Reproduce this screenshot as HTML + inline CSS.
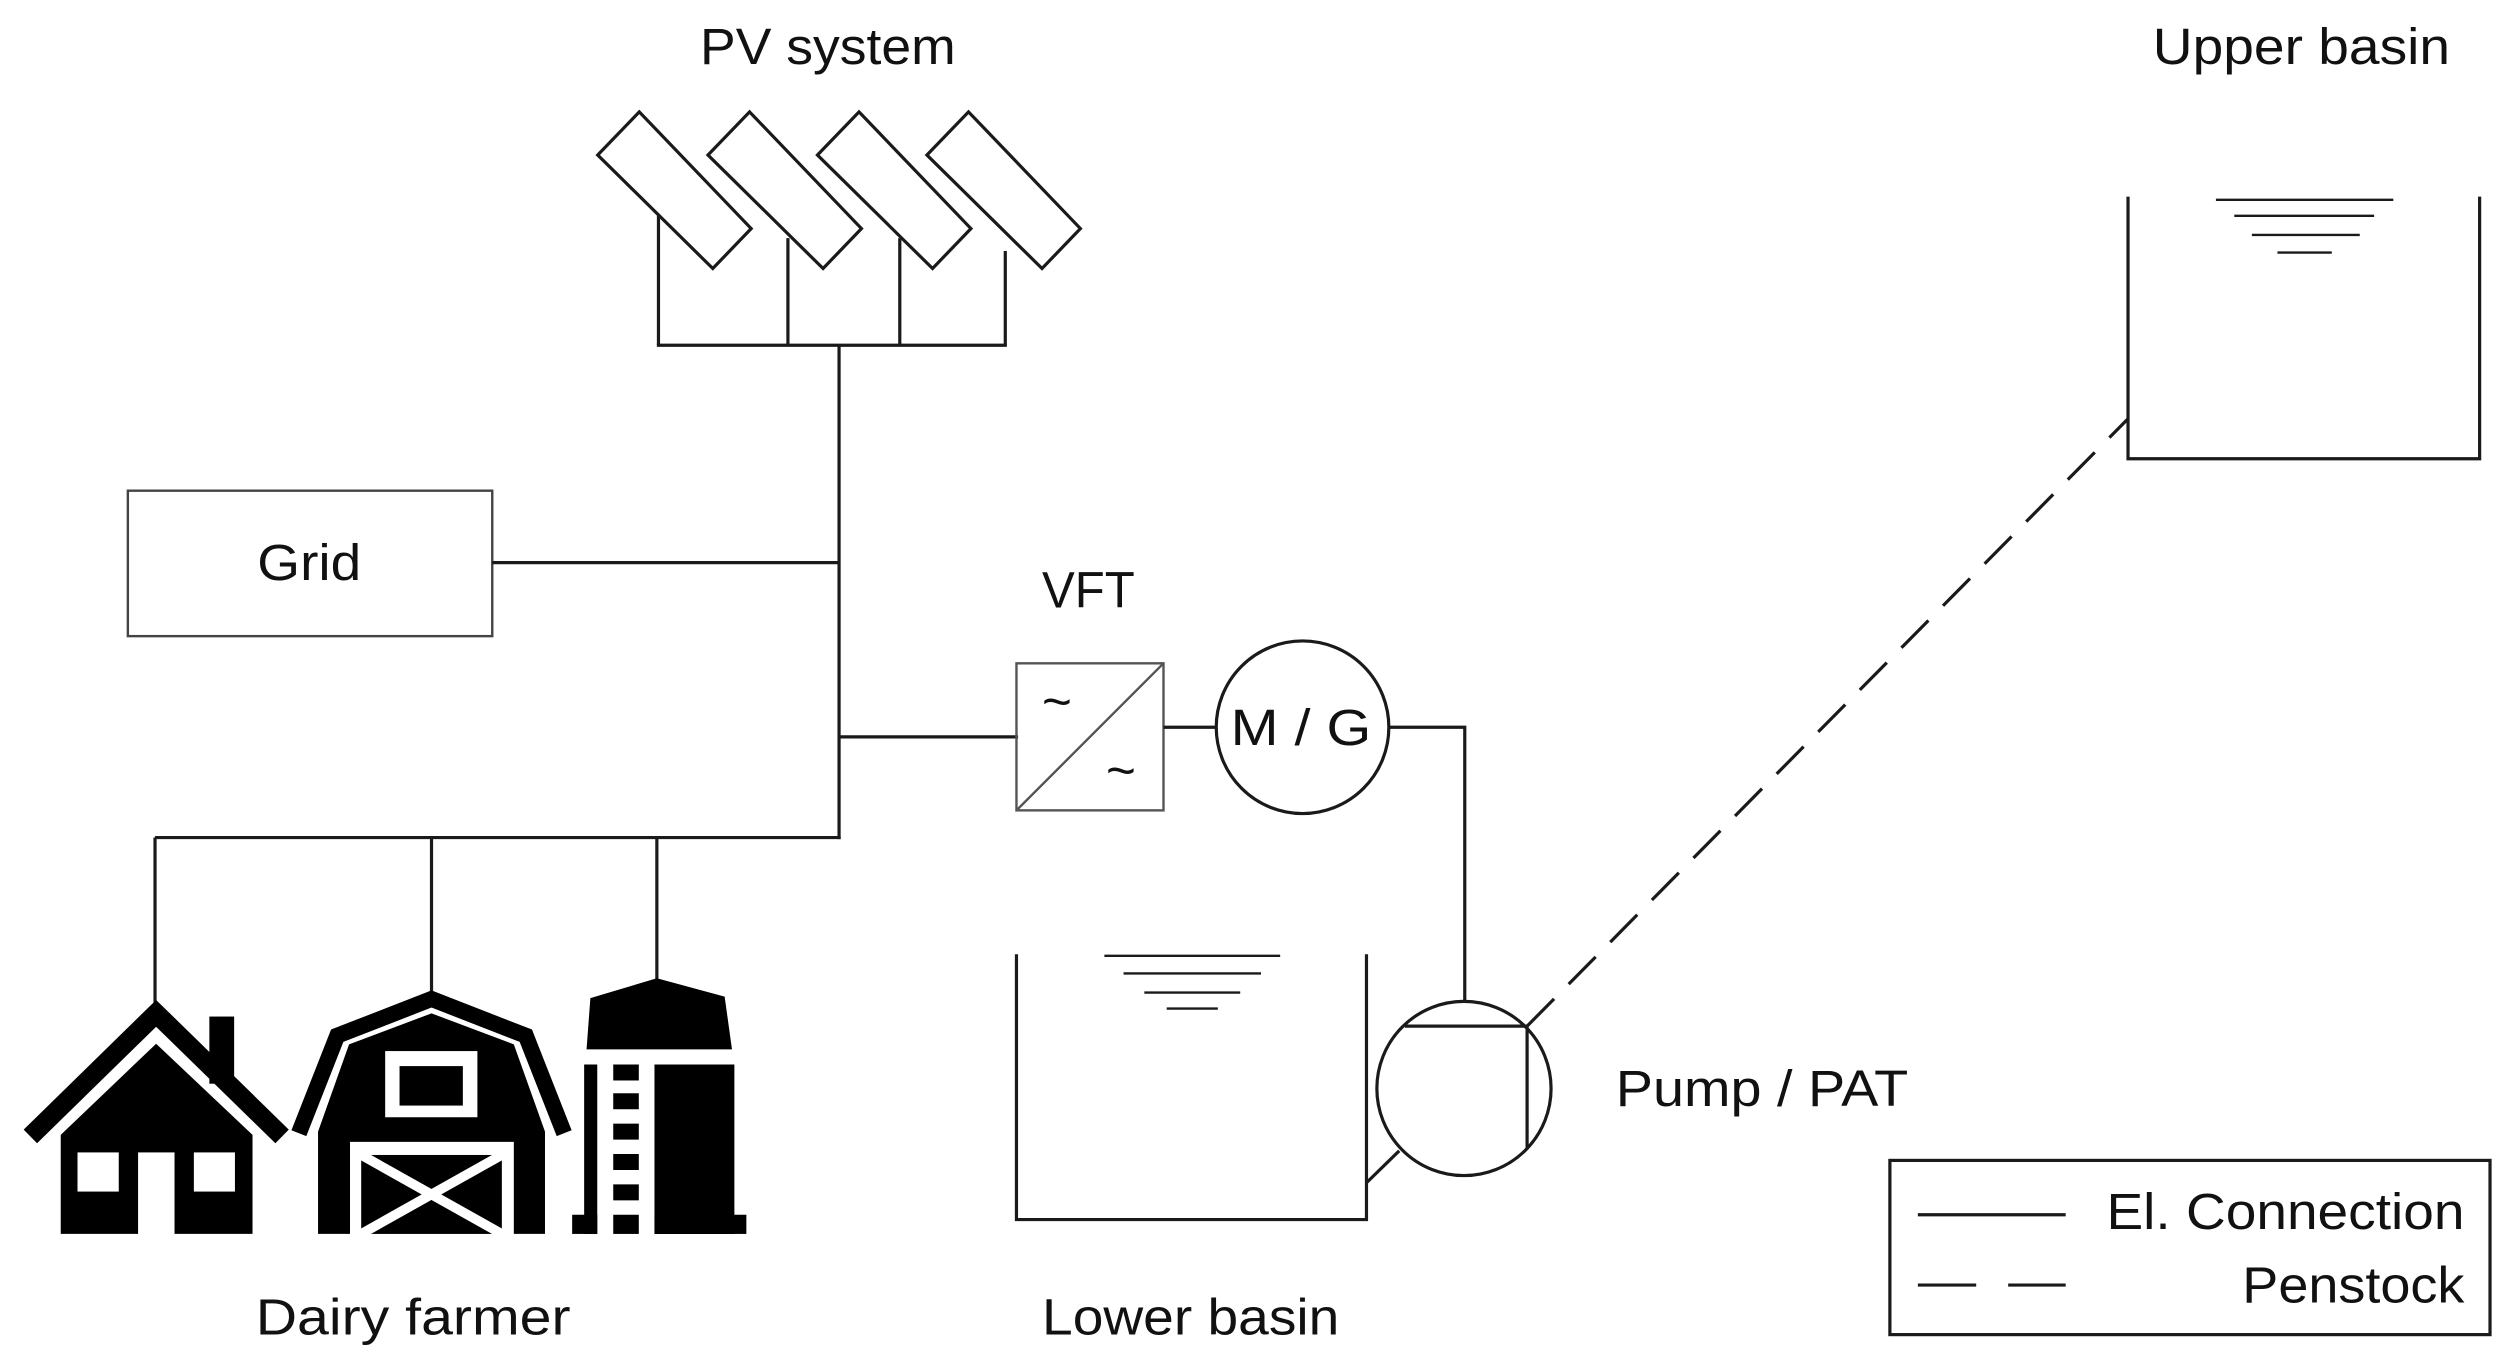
<!DOCTYPE html>
<html><head><meta charset="utf-8"><style>
html,body{margin:0;padding:0;background:#fff;}
svg{display:block;}
text{font-family:"Liberation Sans",sans-serif;font-size:32px;fill:#111;}
</style></head><body>
<svg width="2506" height="1357" viewBox="0 0 1568 849" preserveAspectRatio="none" xmlns="http://www.w3.org/2000/svg">
<g fill="none" stroke="#1a1a1a" stroke-width="2">
<polygon points="374,97 400,70 470,143 446,168" fill="#fff"/>
<polygon points="443,97 469,70 539,143 515,168" fill="#fff"/>
<polygon points="511.5,97 537.5,70 607.5,143 583.5,168" fill="#fff"/>
<polygon points="580,97 606,70 676,143 652,168" fill="#fff"/>
<line x1="412" y1="135" x2="412" y2="216"/>
<line x1="493" y1="149" x2="493" y2="216"/>
<line x1="563" y1="149" x2="563" y2="216"/>
<line x1="629" y1="157" x2="629" y2="216"/>
<line x1="411" y1="216" x2="630" y2="216"/>
<line x1="525" y1="216" x2="525" y2="525"/>
<rect x="80" y="307" width="228" height="91" stroke="#444" stroke-width="1.5"/>
<line x1="308" y1="352" x2="525" y2="352"/>
<line x1="525" y1="461" x2="637" y2="461"/>
<line x1="97" y1="524" x2="526" y2="524"/>
<line x1="97" y1="524" x2="97" y2="628"/>
<line x1="270" y1="524" x2="270" y2="621"/>
<line x1="411" y1="524" x2="411" y2="614"/>
<rect x="636" y="415" width="92" height="92" stroke="#555" stroke-width="1.5"/>
<line x1="636" y1="507" x2="728" y2="415" stroke="#555" stroke-width="1.5"/>
<line x1="728" y1="455" x2="761" y2="455"/>
<circle cx="815" cy="455" r="54"/>
<polyline points="869,455 916.5,455 916.5,627"/>
<circle cx="916" cy="681" r="54.5"/>
<line x1="879" y1="642" x2="955.5" y2="642"/>
<line x1="955.5" y1="642" x2="955.5" y2="719"/>
<line x1="855" y1="740" x2="875.5" y2="720"/>
<polyline points="636,597 636,763 855,763 855,597"/>
<g stroke-width="1.5">
<line x1="691" y1="598" x2="801" y2="598"/>
<line x1="703" y1="609" x2="789" y2="609"/>
<line x1="716" y1="621" x2="776" y2="621"/>
<line x1="730" y1="631" x2="762" y2="631"/>
</g>
<polyline points="1331.5,123 1331.5,287 1551.5,287 1551.5,123"/>
<g stroke-width="1.5">
<line x1="1386.5" y1="125" x2="1497.5" y2="125"/>
<line x1="1398" y1="135" x2="1485.5" y2="135"/>
<line x1="1409" y1="147" x2="1476.5" y2="147"/>
<line x1="1425" y1="158" x2="1459" y2="158"/>
</g>
<line x1="955.5" y1="642" x2="1331.5" y2="262" stroke-dasharray="24,13"/>
<rect x="1182.5" y="726" width="375.5" height="109"/>
<line x1="1200" y1="760" x2="1292.5" y2="760"/>
<line x1="1200" y1="804" x2="1236.5" y2="804"/>
<line x1="1256.5" y1="804" x2="1292.5" y2="804"/>
</g>
<g fill="#000">
<rect x="131" y="636" width="15.5" height="42"/>
<polyline points="19,711 97.7,634 176.5,711" fill="none" stroke="#000" stroke-width="12"/>
<polygon points="38,772 38,710 97.7,653 158,710 158,772"/>
<rect x="48.5" y="721" width="25.8" height="24.5" fill="#fff"/>
<rect x="121.3" y="721" width="25.7" height="24.5" fill="#fff"/>
<rect x="86.4" y="721" width="22.8" height="52" fill="#fff"/>
<polyline points="187,709 211,648 270,625 329,648 353,709" fill="none" stroke="#000" stroke-width="10"/>
<polygon points="199,772 199,708 218.4,653.4 270,634 321.5,653.4 341,708 341,772"/>
<rect x="241" y="657.6" width="57.7" height="41.4" fill="#fff"/>
<rect x="250" y="667" width="39.6" height="24.7"/>
<rect x="219" y="714.4" width="102.5" height="58" fill="#fff"/>
<rect x="226" y="722.6" width="88" height="49.4"/>
<line x1="226" y1="722.6" x2="314" y2="772" stroke="#fff" stroke-width="6"/>
<line x1="314" y1="722.6" x2="226" y2="772" stroke="#fff" stroke-width="6"/>
<polygon points="367,656.5 369.4,624.5 411,612 453.4,623.5 458,656.5"/>
<rect x="365.5" y="666" width="8.2" height="106"/>
<rect x="358" y="760" width="15.7" height="12"/>
<rect x="383.7" y="666" width="16" height="10"/>
<rect x="383.7" y="684" width="16" height="10"/>
<rect x="383.7" y="703" width="16" height="10"/>
<rect x="383.7" y="722" width="16" height="10"/>
<rect x="383.7" y="741" width="16" height="10"/>
<rect x="383.7" y="760" width="16" height="12"/>
<rect x="409.5" y="666" width="50" height="106"/>
<rect x="409.5" y="760" width="57.5" height="12"/>
</g>
<text x="438" y="40" textLength="160" lengthAdjust="spacingAndGlyphs">PV system</text>
<text x="1347" y="40" textLength="186" lengthAdjust="spacingAndGlyphs">Upper basin</text>
<text x="161" y="363" textLength="65" lengthAdjust="spacingAndGlyphs">Grid</text>
<text x="652" y="380" textLength="58" lengthAdjust="spacingAndGlyphs">VFT</text>
<text x="770" y="466" textLength="88" lengthAdjust="spacingAndGlyphs">M / G</text>
<text x="1011" y="692" textLength="183" lengthAdjust="spacingAndGlyphs">Pump / PAT</text>
<text x="160" y="835" textLength="197" lengthAdjust="spacingAndGlyphs">Dairy farmer</text>
<text x="652" y="835" textLength="186" lengthAdjust="spacingAndGlyphs">Lower basin</text>
<text x="1318" y="769" textLength="224" lengthAdjust="spacingAndGlyphs">El. Connection</text>
<text x="1403" y="815" textLength="139" lengthAdjust="spacingAndGlyphs">Penstock</text>
<text x="652" y="450" style="font-size:32px">~</text>
<text x="692" y="493" style="font-size:32px">~</text>
</svg>
</body></html>
